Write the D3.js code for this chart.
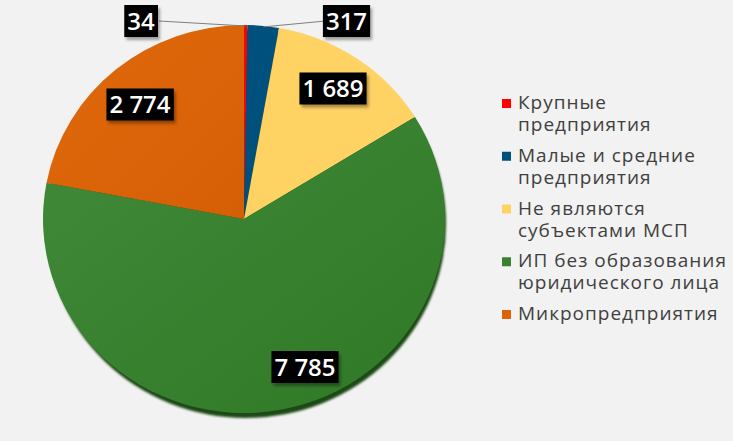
<!DOCTYPE html>
<html><head><meta charset="utf-8">
<script src="https://cdn.jsdelivr.net/npm/d3@7/dist/d3.min.js"></script>
<style>
html,body{margin:0;padding:0;background:#f2f2f2;}
svg{display:block;}
</style></head>
<body><svg id="c" width="733" height="441"></svg>
<script>
const categories = ["Крупные предприятия","Малые и средние предприятия","Не являются субъектами МСП","ИП без образования юридического лица","Микропредприятия"];
const legendLines = [["Крупные","предприятия"],["Малые и средние","предприятия"],["Не являются","субъектами МСП"],["ИП без образования","юридического лица"],["Микропредприятия"]];
const values = [34, 317, 1689, 7785, 2774];
const valueLabels = ["34","317","1 689","7 785","2 774"];
const colors = ["#ff0000","#00507d","#ffd264","#3a8032","#dc6208"];

const svg = d3.select("#c");
const W = 733, H = 441;
svg.append("rect").attr("width",W).attr("height",H).attr("fill","#f2f2f2");

const defs = svg.append("defs");
const f = defs.append("filter").attr("id","bs").attr("x","-20%").attr("y","-20%").attr("width","150%").attr("height","160%");
f.append("feDropShadow").attr("dx",2).attr("dy",3).attr("stdDeviation",1.5).attr("flood-color","#000").attr("flood-opacity",0.35);
const sh = defs.append("filter").attr("id","ps").attr("x","-10%").attr("y","-10%").attr("width","120%").attr("height","125%");
sh.append("feGaussianBlur").attr("stdDeviation",1);

const gradG = defs.append("linearGradient").attr("id","gg").attr("x1","0").attr("y1","0").attr("x2","1").attr("y2","1");
gradG.append("stop").attr("offset","0").attr("stop-color","#418a39");
gradG.append("stop").attr("offset","1").attr("stop-color","#2f7826");
const gradO = defs.append("linearGradient").attr("id","go").attr("x1","0").attr("y1","0").attr("x2","1").attr("y2","1");
gradO.append("stop").attr("offset","0").attr("stop-color","#e0680c");
gradO.append("stop").attr("offset","1").attr("stop-color","#d65e05");
const fills = [colors[0], colors[1], colors[2], "url(#gg)", "url(#go)"];

const cx = 244, cy = 219, R = 201, sy = 194/201;
const pie = d3.pie().sort(null).value(d=>d);
const arcs = pie(values);
const arc = d3.arc().innerRadius(0).outerRadius(R);

// shadow
svg.append("ellipse").attr("cx",cx+2).attr("cy",cy+5).attr("rx",R-1).attr("ry",R*sy)
  .attr("fill","#1d4a12").attr("filter","url(#ps)");

const g = svg.append("g").attr("transform",`translate(${cx},${cy}) scale(1,${sy})`);
g.selectAll("path").data(arcs).enter().append("path")
  .attr("d",arc).attr("fill",(d,i)=>fills[i]);

// label layout: [dx, dy] of box centre relative to pie centre
const labelPos = [[-103,-198],[102.5,-198],[89,-130.5],[61,148],[-104,-114.5]];
const leaderEnd = arcs.map(d=>{const a=(d.startAngle+d.endAngle)/2; return [R*Math.sin(a), -R*sy*Math.cos(a)];});
const lg = svg.append("g").attr("transform",`translate(${cx},${cy})`);
[0,1].forEach(i=>{
  const p = labelPos[i];
  const bx = i===0 ? p[0]+18 : p[0]-21;
  lg.append("line").attr("x1",bx).attr("y1",p[1]).attr("x2",leaderEnd[i][0]).attr("y2",leaderEnd[i][1]+1)
    .attr("stroke","#7f7f7f").attr("stroke-width",1);
});
valueLabels.forEach((t,i)=>{
  const p = labelPos[i];
  const gg = lg.append("g").attr("transform",`translate(${p[0]},${p[1]})`);
  const txt = gg.append("text").attr("text-anchor","middle").attr("dy","0.36em")
    .attr("font-family","'Open Sans', sans-serif").attr("font-weight",600).attr("font-size",24)
    .attr("fill","#fff").attr("letter-spacing",0).text(t);
  const bb = txt.node().getBBox();
  gg.insert("rect","text").attr("x",bb.x-3).attr("y",-16).attr("width",bb.width+6).attr("height",32)
    .attr("fill","#000").attr("filter","url(#bs)");
});

// legend
const leg = svg.append("g");
const lx = 502, ly0 = 109, step = 52.75, lh = 22;
legendLines.forEach((lines,i)=>{
  const y = ly0 + i*step;
  leg.append("rect").attr("x",lx).attr("y",y-10).attr("width",9).attr("height",9).attr("fill",colors[i]);
  const t = leg.append("text").attr("x",lx+16).attr("y",y)
    .attr("font-family","'Open Sans', sans-serif").attr("font-size",19).attr("fill","#404040").attr("letter-spacing",1);
  lines.forEach((l,j)=>t.append("tspan").attr("x",lx+16).attr("y",y+j*lh).text(l));
});
</script></body></html>
